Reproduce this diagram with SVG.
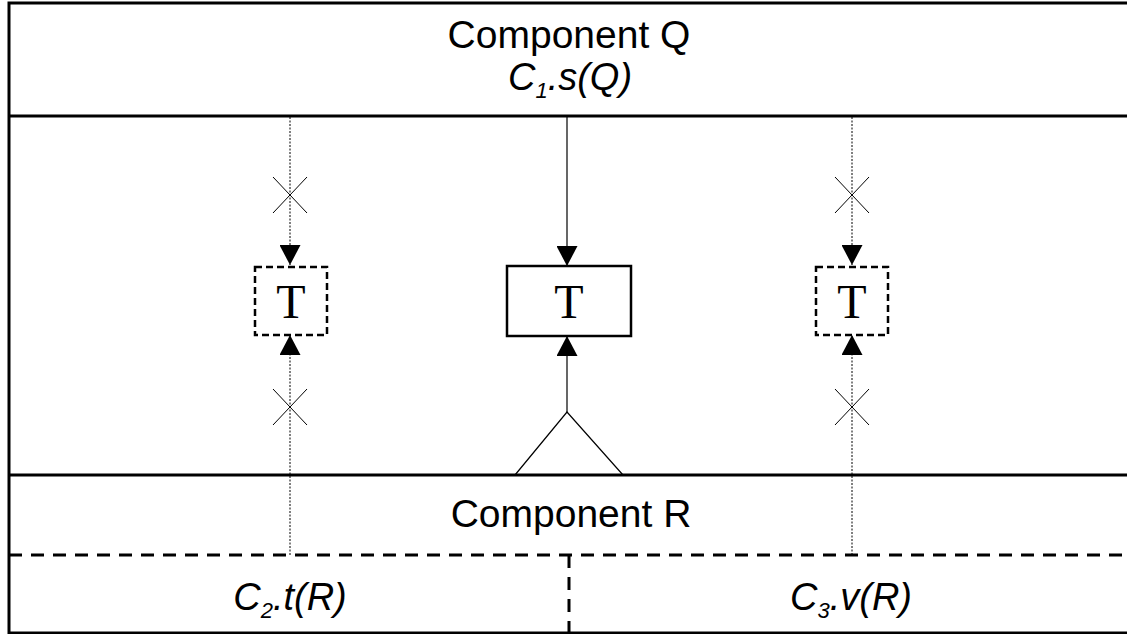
<svg xmlns="http://www.w3.org/2000/svg" width="1127" height="634" viewBox="0 0 1127 634">
<defs>
<style>
.frame{fill:none;stroke:#000;stroke-width:3}
.dash{fill:none;stroke:#000;stroke-width:3;stroke-dasharray:13 9}
.dot{fill:none;stroke:#000;stroke-width:1;stroke-dasharray:2 1.5}
.thin{fill:none;stroke:#000;stroke-width:1.2}
.xm{fill:none;stroke:#000;stroke-width:1}
.boxd{fill:#fff;stroke:#000;stroke-width:2.5;stroke-dasharray:7 4}
.box{fill:#fff;stroke:#000;stroke-width:2.5}
.sans{font-family:"Liberation Sans",Arial,sans-serif;font-size:39px;fill:#000;text-anchor:middle}
.it{font-style:italic;font-size:38px}
.sub{font-size:22px}
.tt{font-family:"Liberation Serif","Times New Roman",serif;font-size:48px;fill:#000;text-anchor:middle}
</style>
<marker id="ah" viewBox="0 0 10 10" refX="10" refY="5" markerWidth="20" markerHeight="21" markerUnits="userSpaceOnUse" orient="auto" preserveAspectRatio="none">
<path d="M0,0 L10,5 L0,10 Z" fill="#000"/>
</marker>
</defs>
<g id="frame">
<rect x="9" y="3" width="1130" height="630" class="frame"/>
<line x1="9" y1="116" x2="1127" y2="116" class="frame"/>
<line x1="9" y1="475" x2="1127" y2="475" class="frame"/>
<line x1="9" y1="555" x2="1127" y2="555" class="dash"/>
<line x1="569" y1="555" x2="569" y2="633" class="dash"/>
</g>
<g id="componentQ">
<text x="569" y="48" class="sans">Component Q</text>
<text x="570" y="90" class="sans it">C<tspan class="sub" dy="8">1</tspan><tspan dy="-8">.s(Q)</tspan></text>
</g>
<g id="componentR">
<text x="571" y="527" class="sans">Component R</text>
<text x="290" y="610" class="sans it">C<tspan class="sub" dy="8">2</tspan><tspan dy="-8">.t(R)</tspan></text>
<text x="851" y="610" class="sans it">C<tspan class="sub" dy="8">3</tspan><tspan dy="-8">.v(R)</tspan></text>
</g>
<g id="connectors">
<line x1="290" y1="117" x2="290" y2="265" class="dot" marker-end="url(#ah)"/>
<line x1="290" y1="555" x2="290" y2="335" class="dot" marker-end="url(#ah)"/>
<line x1="852" y1="117" x2="852" y2="265" class="dot" marker-end="url(#ah)"/>
<line x1="852" y1="555" x2="852" y2="335" class="dot" marker-end="url(#ah)"/>
<line x1="567" y1="117" x2="567" y2="266" class="thin" marker-end="url(#ah)"/>
<line x1="567" y1="412" x2="567" y2="336" class="thin" marker-end="url(#ah)"/>
<polyline points="515,475 567,412 623,475" class="thin"/>
<path d="M273,177 L307,213 M307,177 L273,213" class="xm"/>
<path d="M273,389 L307,425 M307,389 L273,425" class="xm"/>
<path d="M835,177 L869,213 M869,177 L835,213" class="xm"/>
<path d="M835,389 L869,425 M869,389 L835,425" class="xm"/>
</g>
<g id="tLeft">
<rect x="255" y="267" width="72" height="68" class="boxd"/>
<text x="291" y="318" class="tt">T</text>
</g>
<g id="tCenter">
<rect x="507" y="266" width="124" height="70" class="box"/>
<text x="569" y="318" class="tt">T</text>
</g>
<g id="tRight">
<rect x="816" y="267" width="72" height="68" class="boxd"/>
<text x="852" y="318" class="tt">T</text>
</g>
</svg>
